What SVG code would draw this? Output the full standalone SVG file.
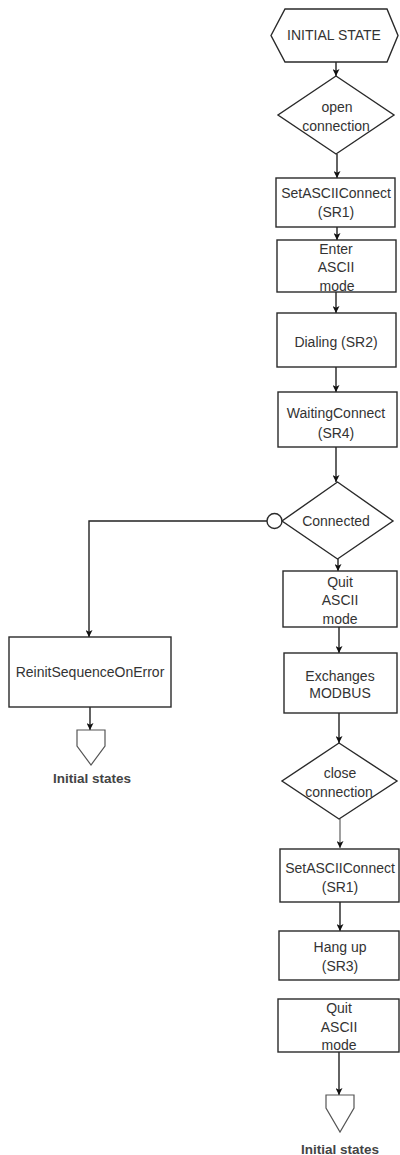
<svg xmlns="http://www.w3.org/2000/svg" width="400" height="1155" viewBox="0 0 400 1155">
<defs>
<marker id="ah" viewBox="0 0 8 8" refX="8" refY="4" markerWidth="7" markerHeight="7" markerUnits="userSpaceOnUse" orient="auto">
<path d="M0,0 L8,4 L0,8 L2,4 z" fill="#111"/>
</marker>
<style>
.n{fill:#fff;stroke:#2a2a2a;stroke-width:1.4}
.t{font-family:"Liberation Sans",Arial,sans-serif;font-size:14px;fill:#333;text-anchor:middle}
.b{font-family:"Liberation Sans",Arial,sans-serif;font-size:13.5px;font-weight:bold;fill:#444;text-anchor:middle}
.c{fill:none;stroke:#222;stroke-width:1.4}
.g{fill:none;stroke:#777;stroke-width:1.4}
</style>
</defs>
<rect width="400" height="1155" fill="#fff"/>

<g id="connectors">
<line class="c" x1="336" y1="62" x2="336" y2="76" marker-end="url(#ah)"/>
<line class="c" x1="337" y1="154" x2="337" y2="178" marker-end="url(#ah)"/>
<line class="c" x1="337" y1="227" x2="337" y2="240" marker-end="url(#ah)"/>
<line class="c" x1="336" y1="292" x2="336" y2="313" marker-end="url(#ah)"/>
<line class="c" x1="336" y1="367" x2="336" y2="392" marker-end="url(#ah)"/>
<line class="c" x1="336" y1="447" x2="336" y2="482" marker-end="url(#ah)"/>
<line class="c" x1="338" y1="559" x2="338" y2="571" marker-end="url(#ah)"/>
<polyline class="c" points="267,521 89,521 89,637" marker-end="url(#ah)"/>
<circle cx="274.5" cy="521" r="7.5" fill="#fff" stroke="#2a2a2a" stroke-width="1.4"/>
<line class="c" x1="339" y1="627" x2="339" y2="653" marker-end="url(#ah)"/>
<line class="c" x1="339" y1="713" x2="339" y2="743" marker-end="url(#ah)"/>
<line class="g" x1="340" y1="819" x2="340" y2="848" marker-end="url(#ah)"/>
<line class="c" x1="340" y1="902" x2="340" y2="931" marker-end="url(#ah)"/>
<line class="c" x1="339" y1="1052" x2="339" y2="1095" marker-end="url(#ah)"/>
<line class="c" x1="90" y1="707" x2="90" y2="730" marker-end="url(#ah)"/>
</g>

<g id="initial-state">
<polygon class="n" points="271,35.5 285,9 387,9 398,35.5 387,62 285,62"/>
<text class="t" x="334" y="40" font-size="13">INITIAL STATE</text>
</g>

<g id="open-connection">
<polygon class="n" points="336,76 394,115 336,154 278,115"/>
<text class="t" x="337" y="112">open</text>
<text class="t" x="336" y="131">connection</text>
</g>

<g id="setascii-1">
<rect class="n" x="276" y="178" width="119" height="49"/>
<text class="t" x="336" y="198">SetASCIIConnect</text>
<text class="t" x="336" y="217">(SR1)</text>
</g>

<g id="enter-ascii">
<rect class="n" x="277" y="240" width="119" height="52"/>
<text class="t" x="336" y="254">Enter</text>
<text class="t" x="336" y="272">ASCII</text>
<text class="t" x="337" y="291">mode</text>
</g>

<g id="dialing">
<rect class="n" x="277" y="313" width="119" height="54"/>
<text class="t" x="336" y="347">Dialing (SR2)</text>
</g>

<g id="waiting-connect">
<rect class="n" x="278" y="392" width="119" height="55"/>
<text class="t" x="336" y="418">WaitingConnect</text>
<text class="t" x="336" y="438">(SR4)</text>
</g>

<g id="connected">
<polygon class="n" points="337.5,482 393,521 337.5,559 282,521"/>
<text class="t" x="336" y="526">Connected</text>
</g>

<g id="quit-ascii-1">
<rect class="n" x="283" y="571" width="114" height="56"/>
<text class="t" x="340" y="587">Quit</text>
<text class="t" x="340" y="605">ASCII</text>
<text class="t" x="340" y="624">mode</text>
</g>

<g id="exchanges">
<rect class="n" x="284" y="653" width="113" height="60"/>
<text class="t" x="340" y="681">Exchanges</text>
<text class="t" x="340" y="698">MODBUS</text>
</g>

<g id="close-connection">
<polygon class="n" points="339,743 397,781 339,819 282,781"/>
<text class="t" x="340" y="778">close</text>
<text class="t" x="339" y="797">connection</text>
</g>

<g id="setascii-2">
<rect class="n" x="280" y="849" width="119" height="53"/>
<text class="t" x="340" y="873">SetASCIIConnect</text>
<text class="t" x="340" y="892">(SR1)</text>
</g>

<g id="hang-up">
<rect class="n" x="279" y="931" width="120" height="49"/>
<text class="t" x="340" y="952">Hang up</text>
<text class="t" x="340" y="971">(SR3)</text>
</g>

<g id="quit-ascii-2">
<rect class="n" x="278" y="999" width="121" height="53"/>
<text class="t" x="339" y="1013">Quit</text>
<text class="t" x="339" y="1032">ASCII</text>
<text class="t" x="339" y="1050">mode</text>
</g>

<g id="initial-states-right">
<polygon points="326,1095 354,1095 354,1108 340,1132 326,1108" fill="#fff" stroke="#555" stroke-width="1.2"/>
<text class="b" x="340" y="1154">Initial states</text>
</g>

<g id="reinit">
<rect class="n" x="9" y="637" width="162" height="70"/>
<text class="t" x="90" y="677">ReinitSequenceOnError</text>
</g>

<g id="initial-states-left">
<polygon points="77,730 105,730 105,746 91,765 77,746" fill="#fff" stroke="#555" stroke-width="1.2"/>
<text class="b" x="92" y="783">Initial states</text>
</g>
</svg>
